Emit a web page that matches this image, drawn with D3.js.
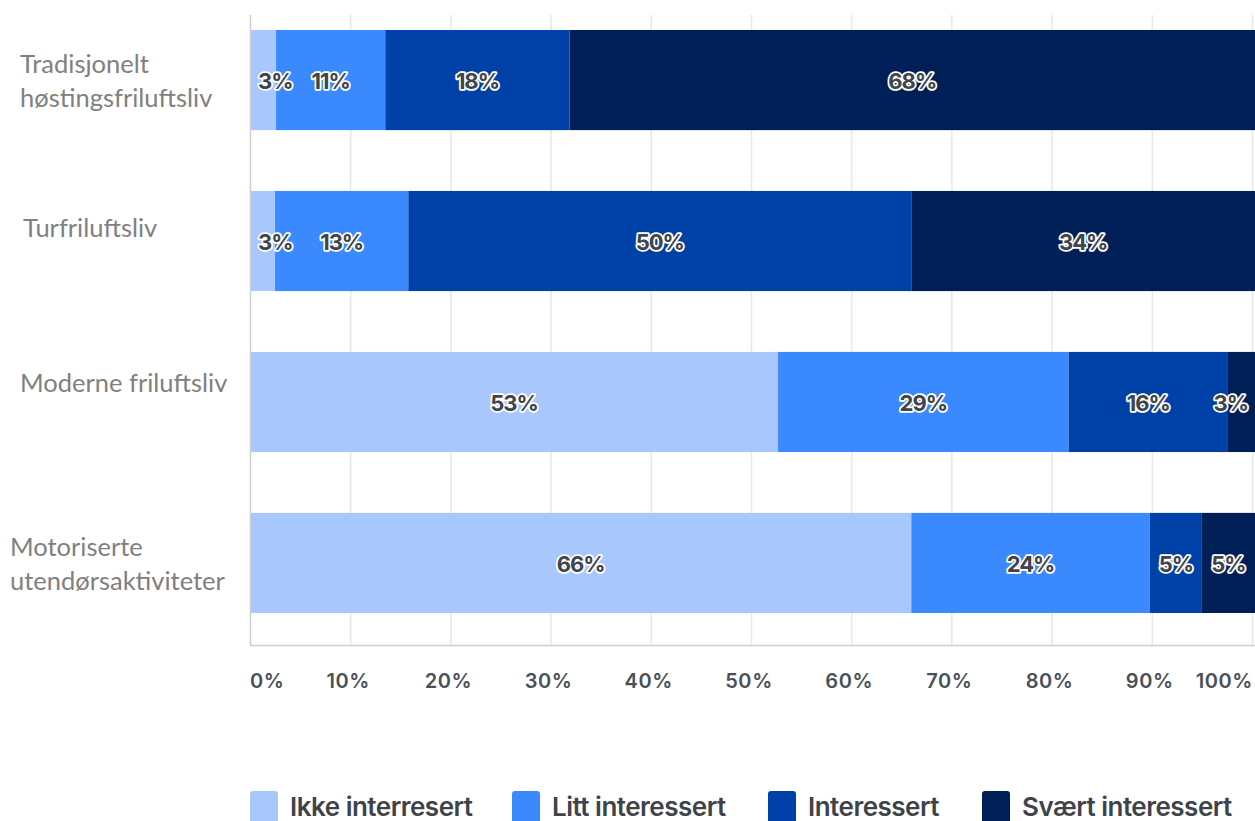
<!DOCTYPE html>
<html>
<head>
<meta charset="utf-8">
<script src="https://cdn.jsdelivr.net/npm/d3@7"></script>
<style>
  html, body { margin: 0; padding: 0; background: #fff; }
  svg { display: block; }
</style>
</head>
<body>
<svg id="chart" width="1255" height="821"></svg>
<script>
// ---- data ----
const categories = [
  ["Tradisjonelt", "høstingsfriluftsliv"],
  ["Turfriluftsliv"],
  ["Moderne friluftsliv"],
  ["Motoriserte", "utendørsaktiviteter"]
];
const seriesNames = ["Ikke interresert", "Litt interessert", "Interessert", "Svært interessert"];
const ikkeInteresert    = [2.6, 2.5, 52.7, 66.0];
const littInteressert   = [10.9, 13.3, 29.0, 23.8];
const interessert       = [18.4, 50.2, 15.9, 5.2];
const svaertInteressert = [68.4, 34.3, 2.7, 5.3];
const seriesValues = [ikkeInteresert, littInteressert, interessert, svaertInteressert];
const tickValues = [0, 10, 20, 30, 40, 50, 60, 70, 80, 90, 100];
const tickLabels = ["0%", "10%", "20%", "30%", "40%", "50%", "60%", "70%", "80%", "90%", "100%"];
const colors = ["#a8c7fc", "#3a8afd", "#0041a8", "#001f57"];

// ---- layout ----
const svg = d3.select("#chart");
const W = 1255;
const x = d3.scaleLinear().domain([0, 100]).range([250, 1252]);
const y = d3.scaleBand().domain(d3.range(categories.length)).range([30, 613]).paddingInner(0.378).paddingOuter(0);
const plotTop = 15, plotBottom = 645;

// gridlines
svg.append("g").selectAll("line").data(tickValues.slice(1)).join("line")
  .attr("x1", d => x(d) + 0.5).attr("x2", d => x(d) + 0.5)
  .attr("y1", plotTop).attr("y2", plotBottom)
  .attr("stroke", "#e8e8e8").attr("stroke-width", 1.5);

// stacked data
const segs = categories.map((c, i) => {
  let acc = 0;
  return seriesValues.map((s, k) => {
    const seg = { row: i, k, x0: acc, x1: acc + s[i], v: s[i] };
    acc += s[i];
    return seg;
  });
}).flat();

svg.append("g").selectAll("rect").data(segs).join("rect")
  .attr("x", d => x(d.x0))
  .attr("width", d => Math.max(0, Math.min(x(d.x1), W) - x(d.x0)))
  .attr("y", d => y(d.row))
  .attr("height", y.bandwidth())
  .attr("fill", d => colors[d.k]);

// axis lines
svg.append("line").attr("x1", 250.5).attr("x2", 250.5).attr("y1", plotTop).attr("y2", plotBottom)
  .attr("stroke", "#cfcfcf").attr("stroke-width", 1.5);
svg.append("line").attr("x1", 250).attr("x2", W).attr("y1", plotBottom + 0.5).attr("y2", plotBottom + 0.5)
  .attr("stroke", "#cfcfcf").attr("stroke-width", 1.5);

// x tick labels
const last = tickValues.length - 1;
svg.append("g").selectAll("text").data(tickValues).join("text")
  .attr("x", (d, i) => i === 0 ? x(d) : (i === last ? x(d) + 1 : x(d) - 2))
  .attr("y", 688)
  .attr("text-anchor", (d, i) => i === 0 ? "start" : (i === last ? "end" : "middle"))
  .attr("font-family", "Inter, sans-serif").attr("font-weight", 600).attr("font-size", 20)
  .attr("letter-spacing", 0.6)
  .attr("fill", "#4a5058")
  .text((d, i) => tickLabels[i]);

// bar data labels
const lbls = svg.append("g").selectAll("text").data(segs).join("text")
  .attr("y", d => y(d.row) + y.bandwidth() / 2 + 9)
  .attr("text-anchor", "middle")
  .attr("font-family", "Inter, sans-serif").attr("font-weight", 700).attr("font-size", 22)
  .attr("letter-spacing", -1)
  .attr("fill", "#40454c")
  .attr("stroke", "#ffffff").attr("stroke-width", 3.5).attr("stroke-linejoin", "round")
  .attr("paint-order", "stroke")
  .text(d => Math.round(d.v) + "%");
lbls.each(function(d) {
  const w = this.getComputedTextLength();
  let cx = (x(d.x0) + Math.min(x(d.x1), W)) / 2;
  cx = Math.max(cx, 250 + w / 2 + 8);
  cx = Math.min(cx, W - w / 2 - 7);
  d3.select(this).attr("x", cx);
});

// category labels
const catFont = "Lato, 'Open Sans', sans-serif";
const labelNudge = [[20, 2], [23, -12], [20, -18], [10, 2]];
const catG = svg.append("g");
categories.forEach((lines, i) => {
  const cy = y(i) + y.bandwidth() / 2 + labelNudge[i][1];
  const lh = 34;
  const t = catG.append("text")
    .attr("font-family", catFont).attr("font-size", 25.5)
    .attr("fill", "#808080");
  lines.forEach((ln, j) => {
    t.append("tspan").attr("x", labelNudge[i][0])
      .attr("y", cy + (j - (lines.length - 1) / 2) * lh + 8)
      .text(ln);
  });
});

// legend
const legendX = [250, 512, 768, 982];
const legG = svg.append("g").selectAll("g").data(seriesNames).join("g")
  .attr("transform", (d, i) => `translate(${legendX[i]},791)`);
legG.append("rect").attr("width", 28).attr("height", 34).attr("rx", 3)
  .attr("fill", (d, i) => colors[i]);
legG.append("text").attr("x", 40).attr("y", 25)
  .attr("font-family", "Inter, sans-serif").attr("font-weight", 600).attr("font-size", 26)
  .attr("letter-spacing", -0.5)
  .attr("fill", "#3e434a")
  .text(d => d);
</script>
</body>
</html>
